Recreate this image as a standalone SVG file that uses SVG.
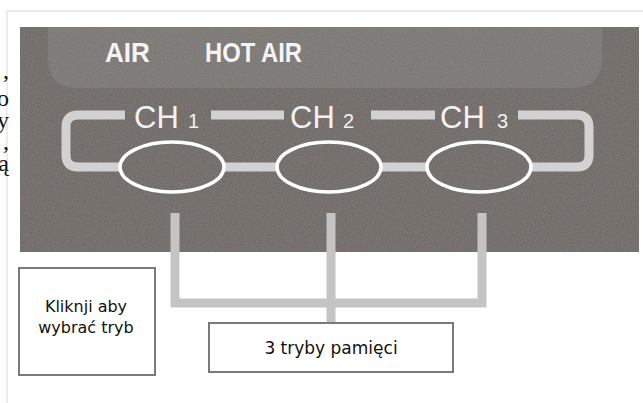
<svg xmlns="http://www.w3.org/2000/svg" width="643" height="403" viewBox="0 0 643 403">
  <defs>
    <filter id="grain" x="0" y="0" width="100%" height="100%">
      <feTurbulence type="fractalNoise" baseFrequency="0.9" numOctaves="2" seed="3" result="n"/>
      <feColorMatrix in="n" type="matrix" values="0 0 0 0 0.40  0 0 0 0 0.38  0 0 0 0 0.36  0 0 0 0.35 0" result="c"/>
      <feComposite in="c" in2="SourceGraphic" operator="in" result="m"/>
      <feMerge><feMergeNode in="SourceGraphic"/><feMergeNode in="m"/></feMerge>
    </filter>
  </defs>
  <style>
    .frame { fill: none; stroke: #e6e6e6; stroke-width: 1.5; }
    .panel { fill: #68625f; }
    .hood { fill: #76726f; }
    .loop { fill: none; stroke: #d2d2d2; stroke-width: 9; stroke-linejoin: round; }
    .btn { fill: none; stroke: #ffffff; stroke-width: 3.5; }
    .wire { fill: none; stroke: #c4c4c4; stroke-width: 9; }
    .box { fill: #ffffff; stroke: #7a7a7a; stroke-width: 2; }
    .bold { font-family: "Liberation Sans", Arial, sans-serif; font-weight: bold; font-size: 28px; fill: #f4f4f4; }
    .ch { font-family: "Liberation Sans", Arial, sans-serif; font-size: 31px; fill: #f2f2f2; }
    .num { font-family: "Liberation Sans", Arial, sans-serif; font-size: 20px; fill: #f2f2f2; }
    .lbl { font-family: "DejaVu Sans", sans-serif; font-size: 16px; fill: #111111; text-anchor: middle; }
    .lbl2 { font-family: "DejaVu Sans", sans-serif; font-size: 17px; fill: #111111; text-anchor: middle; }
    .frag { font-family: "Liberation Serif", "Times New Roman", serif; font-size: 24px; fill: #111111; text-anchor: end; }
  </style>

  <rect x="0" y="0" width="643" height="403" fill="#ffffff"/>
  <path class="frame" d="M7,403 V11 H643"/>

  <g id="edge-text">
    <text class="frag"><tspan x="9" y="78">,</tspan><tspan x="9" y="106">o</tspan><tspan x="9" y="128">y</tspan><tspan x="9" y="149">,</tspan><tspan x="9" y="171">ą</tspan></text>
  </g>

  <g id="panel" filter="url(#grain)">
    <rect class="panel" x="20" y="27" width="619" height="225"/>
    <path class="hood" d="M48,27 H602 V58 Q602,88 572,88 H78 Q48,88 48,58 Z"/>
  </g>

  <g id="mode-labels">
    <text class="bold" x="105" y="62" textLength="45" lengthAdjust="spacingAndGlyphs">AIR</text>
    <text class="bold" x="205" y="62" textLength="97" lengthAdjust="spacingAndGlyphs">HOT AIR</text>
  </g>

  <g id="channel-loop">
    <path class="loop" d="M125,115 H78 Q66,115 66,127 V155 Q66,167 78,167 H120 M224,167 H277 M381,167 H426 M532,167 H577 Q589,167 589,155 V127 Q589,115 577,115 H518 M211,115 H284 M371,115 H435"/>
  </g>

  <g id="ch1">
    <text class="ch" x="134" y="128">CH</text>
    <text class="num" x="188" y="128">1</text>
    <ellipse class="btn" cx="172" cy="167" rx="52" ry="25"/>
  </g>
  <g id="ch2">
    <text class="ch" x="290" y="128">CH</text>
    <text class="num" x="343" y="128">2</text>
    <ellipse class="btn" cx="329" cy="167" rx="52" ry="25"/>
  </g>
  <g id="ch3">
    <text class="ch" x="440" y="128">CH</text>
    <text class="num" x="497" y="128">3</text>
    <ellipse class="btn" cx="479" cy="167" rx="52" ry="25"/>
  </g>

  <g id="connectors">
    <path class="wire" d="M175,213 V303 H482 V213 M331,213 V323"/>
  </g>

  <g id="box-select">
    <rect class="box" x="19" y="268" width="136" height="107"/>
    <text class="lbl" x="86" y="312">Kliknji aby</text>
    <text class="lbl" x="86" y="333">wybrać tryb</text>
  </g>

  <g id="box-memory">
    <rect class="box" x="209" y="323" width="244" height="49"/>
    <text class="lbl2" x="331" y="354">3 tryby pamięci</text>
  </g>
</svg>
